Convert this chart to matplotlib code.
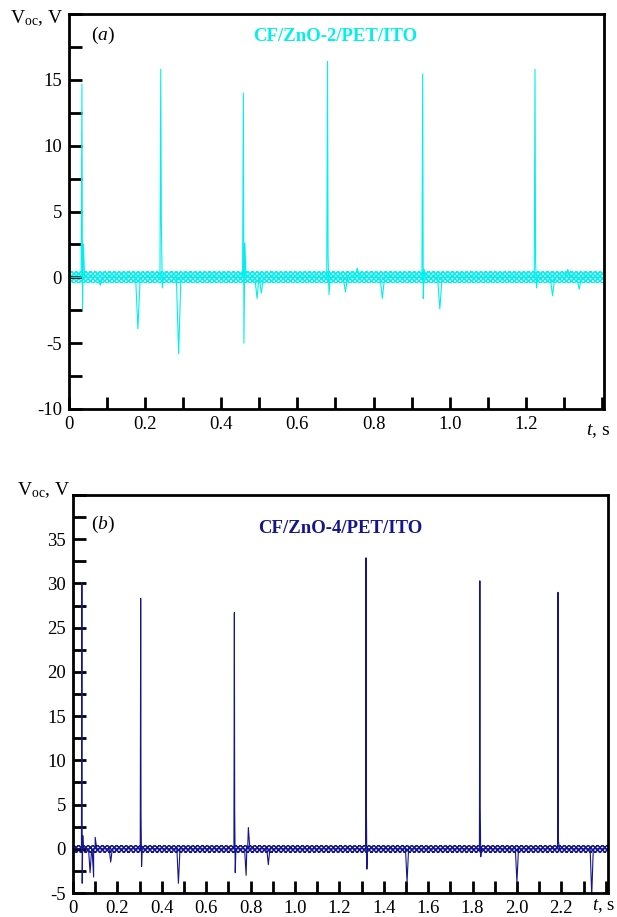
import numpy as np
import matplotlib
matplotlib.use('Agg')
import matplotlib.pyplot as plt
from matplotlib.ticker import MultipleLocator, FixedLocator, FixedFormatter

plt.rcParams['font.family'] = 'Liberation Serif'
plt.rcParams['mathtext.fontset'] = 'custom'
plt.rcParams['mathtext.rm'] = 'Liberation Serif'
plt.rcParams['mathtext.it'] = 'Liberation Serif:italic'
plt.rcParams['hatch.linewidth'] = 1.1

# panel (a) - CF/ZnO-2/PET/ITO
a_spike_t = [0.034, 0.241, 0.458, 0.679, 0.929, 1.224]
a_spike_v = [14.7, 15.8, 14.0, 16.4, 15.45, 15.8]
a_ring_v = [-2.4, 4.4, -5.0, 1.6, -1.6, 1.2]
a_tail_v = [2.5, -0.8, 2.6, -1.3, 0.6, -0.8]
a_dip_t = [0.082, 0.181, 0.288, 0.494, 0.505, 0.726, 0.757, 0.823, 0.974, 1.270, 1.310, 1.340]
a_dip_v = [-0.6, -3.9, -5.8, -1.6, -1.2, -1.1, 0.7, -1.6, -2.4, -1.4, 0.6, -0.9]
a_noise = 0.45

# panel (b) - CF/ZnO-4/PET/ITO
b_spike_t = [0.040, 0.305, 0.727, 1.320, 1.833, 2.185]
b_spike_v = [30.0, 28.3, 26.7, 32.9, 30.3, 29.0]
b_ring_v = [-3.9, 3.9, 4.2, 5.9, 4.8, 1.0]
b_tail_v = [1.5, -2.0, -2.7, -2.3, -0.9, 0.5]
b_dip_t = [0.077, 0.093, 0.100, 0.170, 0.475, 0.780, 0.790, 0.880, 1.505, 2.000, 2.337]
b_dip_v = [-2.7, -3.2, 1.3, -1.5, -3.9, -3.0, 2.4, -1.8, -3.8, -3.8, -5.3]
b_noise = 0.45


def build_trace(t_end, spike_t, spike_v, ring_v, tail_v, dip_t, dip_v, w):
    pts = [(0.0, 0.0), (t_end, 0.0)]
    for t, v, r, tl in zip(spike_t, spike_v, ring_v, tail_v):
        pts += [(t - 0.002, 0.0), (t, v), (t + 0.0015, r), (t + 0.004, tl), (t + 0.007, 0.0)]
    for t, v in zip(dip_t, dip_v):
        pts += [(t - w, 0.0), (t, v), (t + w, 0.0)]
    pts.sort()
    arr = np.array(pts)
    return arr[:, 0], arr[:, 1]


def style_axes(ax, xmax, ymin, ymax, xlabels, ylabels):
    ax.set_xlim(0, xmax)
    ax.set_ylim(ymin, ymax)
    for s in ax.spines.values():
        s.set_linewidth(2)
    ax.xaxis.set_major_locator(FixedLocator([float(x) for x in xlabels]))
    ax.xaxis.set_major_formatter(FixedFormatter(xlabels))
    ax.xaxis.set_minor_locator(MultipleLocator(0.1))
    ax.yaxis.set_major_locator(FixedLocator([float(y) for y in ylabels]))
    ax.yaxis.set_major_formatter(FixedFormatter(ylabels))
    ax.yaxis.set_minor_locator(MultipleLocator(2.5))
    ax.tick_params(which='both', direction='in', length=9, width=2,
                   top=False, right=False, labelsize=13.5, pad=5)


fig = plt.figure(figsize=(6.17, 9.17), dpi=100)

# (a)
ax1 = fig.add_axes([0.1118, 0.554, 0.867, 0.4307])
cyan = '#00f0f0'
ta, va = build_trace(1.405, a_spike_t, a_spike_v, a_ring_v, a_tail_v, a_dip_t, a_dip_v, 0.006)
ax1.fill_between([0, 1.405], -a_noise, a_noise, facecolor='none', edgecolor=cyan,
                 hatch='xxxxxxx', linewidth=0)
ax1.plot(ta, va, color=cyan, lw=0.8)
style_axes(ax1, 1.405, -10, 20,
           ['0', '0.2', '0.4', '0.6', '0.8', '1.0', '1.2'],
           ['-10', '-5', '0', '5', '10', '15'])
ax1.text(0.064, 0.947, '($\\it{a}$)', transform=ax1.transAxes, ha='center', va='center', fontsize=14)
ax1.text(0.497, 0.944, 'CF/ZnO-2/PET/ITO', transform=ax1.transAxes, ha='center', va='center',
         fontsize=13.5, fontweight='bold', color=cyan)
ax1.text(-0.011, 0.977, 'V$_{\\rm oc}$, V', transform=ax1.transAxes, ha='right', va='baseline', fontsize=14)
ax1.text(1.39, -0.055, '$\\it{t}$, s', transform=ax1.get_xaxis_transform(), ha='center', va='center', fontsize=14)

# (b)
ax2 = fig.add_axes([0.1183, 0.02617, 0.867, 0.434])
navy = '#15158c'
tb, vb = build_trace(2.41, b_spike_t, b_spike_v, b_ring_v, b_tail_v, b_dip_t, b_dip_v, 0.007)
ax2.fill_between([0, 2.41], -b_noise, b_noise, facecolor='none', edgecolor=navy,
                 hatch='xxxxxxx', linewidth=0)
ax2.plot(tb, vb, color=navy, lw=0.8)
style_axes(ax2, 2.41, -5, 40,
           ['0', '0.2', '0.4', '0.6', '0.8', '1.0', '1.2', '1.4', '1.6', '1.8', '2.0', '2.2'],
           ['-5', '0', '5', '10', '15', '20', '25', '30', '35'])
ax2.text(0.056, 0.925, '($\\it{b}$)', transform=ax2.transAxes, ha='center', va='center', fontsize=14)
ax2.text(0.499, 0.915, 'CF/ZnO-4/PET/ITO', transform=ax2.transAxes, ha='center', va='center',
         fontsize=13.5, fontweight='bold', color=navy)
ax2.text(-0.006, 1.0, 'V$_{\\rm oc}$, V', transform=ax2.transAxes, ha='right', va='baseline', fontsize=14)
ax2.text(2.39, -0.034, '$\\it{t}$, s', transform=ax2.get_xaxis_transform(), ha='center', va='center', fontsize=13.5)

fig.savefig('out.png', dpi=100)
